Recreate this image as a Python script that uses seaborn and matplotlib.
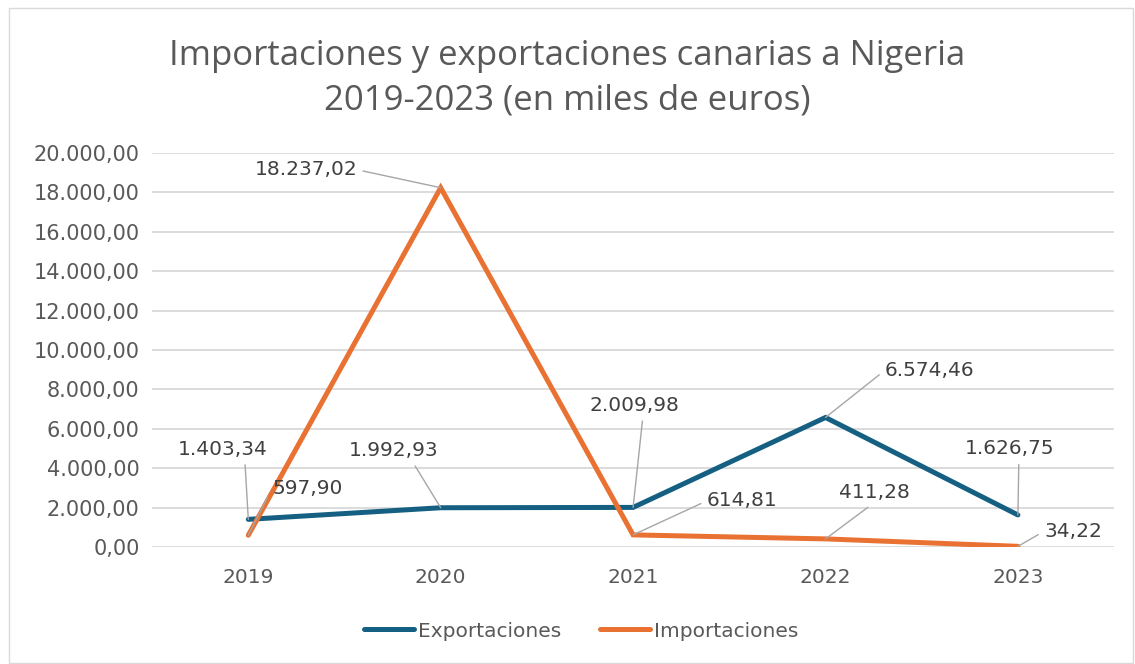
import numpy as np
import pandas as pd
import matplotlib.pyplot as plt
import seaborn as sns
from matplotlib.ticker import FuncFormatter, MultipleLocator
from matplotlib.patches import Rectangle

# datos (miles de euros)
years = [2019, 2020, 2021, 2022, 2023]
exportaciones = [1403.34, 1992.93, 2009.98, 6574.46, 1626.75]
importaciones = [597.90, 18237.02, 614.81, 411.28, 34.22]

# desplazamiento de etiquetas en pixeles y punto de anclaje de la linea guia
exp_offsets = [(-26, 70), (-47, 57), (1, 102), (104, 47), (-8, 66)]
exp_relpos = [(0.75, 0), (0.7, 0), (0.6, 0), (0, 0.5), (0.6, 0)]
imp_offsets = [(59, 47), (-135, 18), (109, 34), (49, 46), (55, 15)]
imp_relpos = [(0, 0.5), (1, 0.5), (0, 0.5), (0.5, 0), (0, 0.5)]

def fmt_es(v, decimals=2):
    s = f"{v:,.{decimals}f}"
    return s.replace(",", "X").replace(".", ",").replace("X", ".")

df = pd.DataFrame({
    "year": years * 2,
    "valor": exportaciones + importaciones,
    "serie": ["Exportaciones"] * len(years) + ["Importaciones"] * len(years),
})

sns.set_style("white")
plt.rcParams['font.family'] = ['DejaVu Sans']
gray = "#595959"
fs = 14.5
colors = {"Exportaciones": "#156082", "Importaciones": "#E97132"}

fig = plt.figure(figsize=(11.35, 6.64), dpi=100)
ax = fig.add_axes([0.134, 0.1762, 0.8476, 0.5934])

sns.lineplot(data=df, x="year", y="valor", hue="serie", palette=colors,
             linewidth=3.6, ax=ax, legend=True)
for line in ax.get_lines():
    line.set_solid_capstyle("round")
    line.set_solid_joinstyle("miter")

ax.set_xlim(2018.5, 2023.5)
ax.set_ylim(0, 20000)
ax.yaxis.set_major_locator(MultipleLocator(2000))
ax.yaxis.set_major_formatter(FuncFormatter(lambda v, p: fmt_es(v)))
ax.set_xticks(years)
ax.set_xticklabels([str(y) for y in years])
ax.grid(axis="y", color="#D9D9D9", linewidth=1.3)
ax.set_axisbelow(True)
for s in ax.spines.values():
    s.set_visible(False)
ax.tick_params(axis="both", length=0, labelsize=fs, labelcolor=gray, pad=9)
ax.tick_params(axis="y", labelsize=15)
ax.tick_params(axis="x", pad=15)
ax.set_xlabel("")
ax.set_ylabel("")

def label(vals, offsets, relpos):
    for x, v, off, rp in zip(years, vals, offsets, relpos):
        ax.annotate(fmt_es(v), xy=(x, v), xytext=off, textcoords="offset pixels",
                    ha="center", va="center", fontsize=fs, color="#404040",
                    arrowprops=dict(arrowstyle="-", color="#A6A6A6", lw=1,
                                    shrinkA=2, shrinkB=0, relpos=rp),
                    zorder=5)

label(exportaciones, exp_offsets, exp_relpos)
label(importaciones, imp_offsets, imp_relpos)

leg = ax.legend(loc="center", bbox_to_anchor=(0.446, (547 - 631) / 394.0),
                ncol=2, frameon=False, fontsize=fs, handlelength=2.5,
                handletextpad=0.2, columnspacing=1.9)
for t in leg.get_texts():
    t.set_color(gray)
for h in leg.get_lines():
    h.set_linewidth(3.6)
    h.set_solid_capstyle("round")

fig.text(0.5, 0.882, "Importaciones y exportaciones canarias a Nigeria\n2019-2023 (en miles de euros)",
         ha="center", va="center", fontsize=25, color=gray, linespacing=1.4,
         family=['Open Sans', 'DejaVu Sans'])

fig.patches.append(Rectangle((9 / 1135, 0.0015), 1124 / 1135, 1 - 8 / 664 - 0.0015,
                             transform=fig.transFigure, fill=False,
                             edgecolor="#D9D9D9", linewidth=1))

fig.savefig("out.png", dpi=100)
